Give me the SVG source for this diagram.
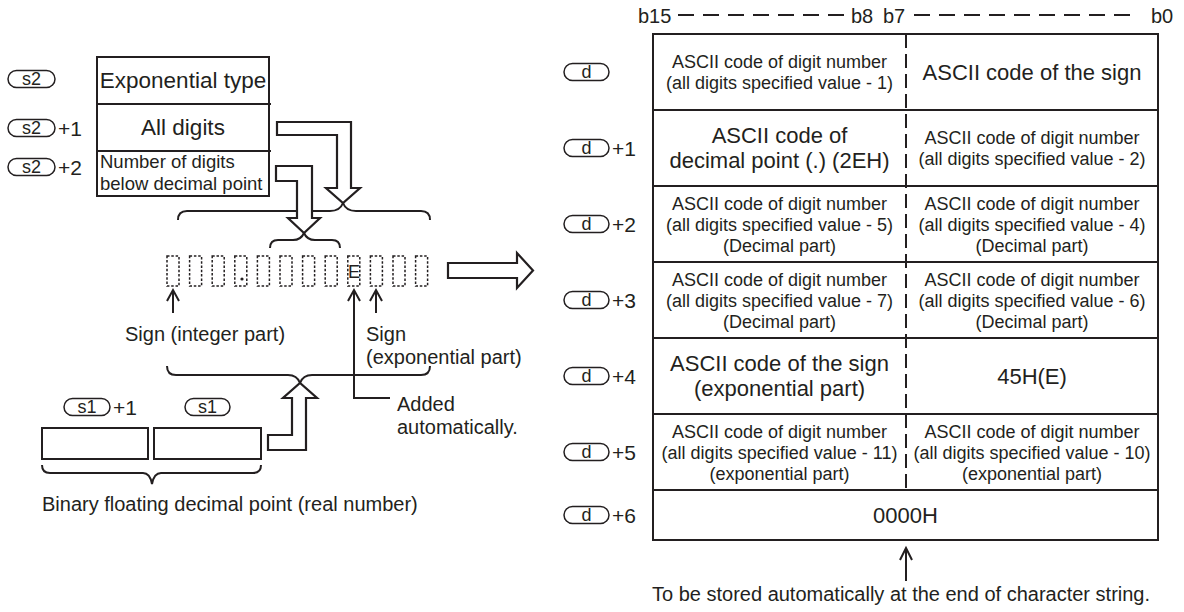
<svg xmlns="http://www.w3.org/2000/svg" width="1184" height="612" viewBox="0 0 1184 612">
<style>
text{font-family:"Liberation Sans",Arial,Helvetica,sans-serif;fill:#231f20}
.t18{font-size:18px}.t185{font-size:18.5px}.t20{font-size:20px}.t21{font-size:21px}.t22{font-size:22px}.t225{font-size:22.5px}
.m{text-anchor:middle}
.ln{fill:none;stroke:#231f20;stroke-width:2}
.box{fill:#fff;stroke:#231f20;stroke-width:2}
.ha{fill:#fff;stroke:#231f20;stroke-width:2.2;stroke-linejoin:miter}
.dt{fill:none;stroke:#231f20;stroke-width:1.5;stroke-dasharray:2.5 1.8}
.ov{fill:none;stroke:#231f20;stroke-width:1.5}
.dash{fill:none;stroke:#231f20;stroke-width:2;stroke-dasharray:14 6}
.hd{fill:none;stroke:#231f20;stroke-width:2;stroke-dasharray:16 9}
</style>

<g id="s2-labels">
  <rect class="ov" x="8" y="70.5" width="47" height="17" rx="8.5"/><text class="t18 m" x="31.5" y="85">s2</text>
  <rect class="ov" x="8" y="119.5" width="47" height="17" rx="8.5"/><text class="t18 m" x="31.5" y="134">s2</text><text class="t21" x="58" y="136">+1</text>
  <rect class="ov" x="8" y="158.5" width="47" height="17" rx="8.5"/><text class="t18 m" x="31.5" y="173">s2</text><text class="t21" x="58" y="175">+2</text>
</g>
<g id="s2-table">
  <rect class="box" x="97" y="57" width="172" height="139"/>
  <line class="ln" x1="97" y1="104" x2="271" y2="104"/>
  <line class="ln" x1="97" y1="151" x2="271" y2="151"/>
  <text class="t225 m" x="183" y="88">Exponential type</text>
  <text class="t225 m" x="183" y="135">All digits</text>
  <text class="t185" x="100" y="168">Number of digits</text>
  <text class="t185" x="100" y="190">below decimal point</text>
</g>

<g id="connectors">
  <path class="ln" d="M178,220 Q178,211 187,211 H330 Q340,211 343,203 Q346,211 356,211 H421 Q430,211 430,220"/>
  <path class="ln" d="M270,248 Q270,240 278,240 H293 Q301,240 304,233 Q307,240 315,240 H332 Q340,240 340,248"/>
  <path class="ha" d="M277,122 H351 V188 H360 L343,203 L326,188 H337 V135 H277 Z"/>
  <path class="ha" d="M276,166 H312 V218 H320 L304,233 L288,218 H297 V181 H276 Z"/>
  <path class="ha" d="M448,263 H517 V253 L533,270.5 L517,288 V278 H448 Z"/>
  <path class="ln" d="M173,313 V291 M167,301 L173,290 L179,301"/>
  <path class="ln" d="M390,398 H354 V291 M348,301 L354,290 L360,301"/>
  <path class="ln" d="M376,313 V291 M370,301 L376,290 L382,301"/>
  <path class="ln" d="M167,366 Q167,375 176,375 H288 Q297,375 300,383 Q303,375 312,375 H421 Q430,375 430,366"/>
  <path class="ha" d="M268,435 H292 V398 H283 L300,383 L317,398 H306 V450 H268 Z"/>
  <path class="ln" d="M42,465 Q42,473 50,473 H143 Q150,473 152,484 Q154,473 161,473 H253 Q261,473 261,465"/>
  <path class="ln" d="M906,581 V549 M900,560 L906,548 L912,560"/>
</g>

<g id="char-boxes">
  <rect class="dt" x="167" y="256" width="12" height="30"/>
  <rect class="dt" x="189.6" y="256" width="12" height="30"/>
  <rect class="dt" x="212.2" y="256" width="12" height="30"/>
  <rect class="dt" x="234.8" y="256" width="12" height="30"/>
  <rect class="dt" x="257.4" y="256" width="12" height="30"/>
  <rect class="dt" x="280" y="256" width="12" height="30"/>
  <rect class="dt" x="302.6" y="256" width="12" height="30"/>
  <rect class="dt" x="325.2" y="256" width="12" height="30"/>
  <rect class="dt" x="347.8" y="256" width="12" height="30"/>
  <rect class="dt" x="370.4" y="256" width="12" height="30"/>
  <rect class="dt" x="393" y="256" width="12" height="30"/>
  <rect class="dt" x="415.6" y="256" width="12" height="30"/>
  <circle cx="242" cy="279" r="1.6" fill="#231f20"/>
  <text class="t18 m" x="354" y="278">E</text>
</g>

<g id="annotations">
  <text class="t20" x="125" y="341">Sign (integer part)</text>
  <text class="t20" x="366" y="341">Sign</text>
  <text class="t20" x="366" y="364">(exponential part)</text>
  <text class="t20" x="397" y="411">Added</text>
  <text class="t20" x="397" y="434">automatically.</text>
</g>

<g id="s1-source">
  <rect class="ov" x="64" y="398.5" width="46" height="17" rx="8.5"/><text class="t18 m" x="87" y="413">s1</text><text class="t21" x="113" y="415">+1</text>
  <rect class="ov" x="185" y="398.5" width="45" height="17" rx="8.5"/><text class="t18 m" x="207.5" y="413">s1</text>
  <rect class="box" x="42" y="428" width="106" height="31"/>
  <rect class="box" x="154" y="428" width="107" height="31"/>
  <text class="t20" x="42" y="511">Binary floating decimal point (real number)</text>
</g>

<g id="bit-header">
  <text class="t20" x="638" y="23">b15</text>
  <line class="hd" x1="678" y1="15" x2="844" y2="15"/>
  <text class="t20" x="851" y="23">b8</text>
  <text class="t20" x="883" y="23">b7</text>
  <line class="hd" x1="914" y1="15" x2="1130" y2="15"/>
  <text class="t20" x="1151" y="23">b0</text>
</g>

<g id="d-labels">
  <rect class="ov" x="564" y="63.5" width="45" height="17" rx="8.5"/><text class="t18 m" x="586.5" y="78">d</text>
  <rect class="ov" x="564" y="139.5" width="45" height="17" rx="8.5"/><text class="t18 m" x="586.5" y="154">d</text><text class="t21" x="612" y="156">+1</text>
  <rect class="ov" x="564" y="215.5" width="45" height="17" rx="8.5"/><text class="t18 m" x="586.5" y="230">d</text><text class="t21" x="612" y="232">+2</text>
  <rect class="ov" x="564" y="291.5" width="45" height="17" rx="8.5"/><text class="t18 m" x="586.5" y="306">d</text><text class="t21" x="612" y="308">+3</text>
  <rect class="ov" x="564" y="367.5" width="45" height="17" rx="8.5"/><text class="t18 m" x="586.5" y="382">d</text><text class="t21" x="612" y="384">+4</text>
  <rect class="ov" x="564" y="443.5" width="45" height="17" rx="8.5"/><text class="t18 m" x="586.5" y="458">d</text><text class="t21" x="612" y="460">+5</text>
  <rect class="ov" x="564" y="506.5" width="45" height="17" rx="8.5"/><text class="t18 m" x="586.5" y="521">d</text><text class="t21" x="612" y="523">+6</text>
</g>

<g id="d-table">
  <rect class="box" x="653" y="34" width="505" height="506"/>
  <line class="ln" x1="653" y1="110" x2="1158" y2="110"/>
  <line class="ln" x1="653" y1="186" x2="1158" y2="186"/>
  <line class="ln" x1="653" y1="262" x2="1158" y2="262"/>
  <line class="ln" x1="653" y1="338" x2="1158" y2="338"/>
  <line class="ln" x1="653" y1="414" x2="1158" y2="414"/>
  <line class="ln" x1="653" y1="490" x2="1158" y2="490"/>
  <line class="dash" x1="906" y1="34" x2="906" y2="490"/>

  <text class="t18 m" x="779.5" y="68">ASCII code of digit number</text>
  <text class="t18 m" x="779.5" y="89">(all digits specified value - 1)</text>
  <text class="t22 m" x="1032" y="80">ASCII code of the sign</text>

  <text class="t22 m" x="779.5" y="143">ASCII code of</text>
  <text class="t22 m" x="779.5" y="168">decimal point (.) (2EH)</text>
  <text class="t18 m" x="1032" y="144">ASCII code of digit number</text>
  <text class="t18 m" x="1032" y="165">(all digits specified value - 2)</text>

  <text class="t18 m" x="779.5" y="209.5">ASCII code of digit number</text>
  <text class="t18 m" x="779.5" y="230.5">(all digits specified value - 5)</text>
  <text class="t18 m" x="779.5" y="251.5">(Decimal part)</text>
  <text class="t18 m" x="1032" y="209.5">ASCII code of digit number</text>
  <text class="t18 m" x="1032" y="230.5">(all digits specified value - 4)</text>
  <text class="t18 m" x="1032" y="251.5">(Decimal part)</text>

  <text class="t18 m" x="779.5" y="285.5">ASCII code of digit number</text>
  <text class="t18 m" x="779.5" y="306.5">(all digits specified value - 7)</text>
  <text class="t18 m" x="779.5" y="327.5">(Decimal part)</text>
  <text class="t18 m" x="1032" y="285.5">ASCII code of digit number</text>
  <text class="t18 m" x="1032" y="306.5">(all digits specified value - 6)</text>
  <text class="t18 m" x="1032" y="327.5">(Decimal part)</text>

  <text class="t22 m" x="779.5" y="371">ASCII code of the sign</text>
  <text class="t22 m" x="779.5" y="396">(exponential part)</text>
  <text class="t22 m" x="1032" y="384">45H(E)</text>

  <text class="t18 m" x="779.5" y="437.5">ASCII code of digit number</text>
  <text class="t18 m" x="779.5" y="458.5">(all digits specified value - 11)</text>
  <text class="t18 m" x="779.5" y="479.5">(exponential part)</text>
  <text class="t18 m" x="1032" y="437.5">ASCII code of digit number</text>
  <text class="t18 m" x="1032" y="458.5">(all digits specified value - 10)</text>
  <text class="t18 m" x="1032" y="479.5">(exponential part)</text>

  <text class="t22 m" x="905.5" y="523">0000H</text>
</g>

<text class="t20" x="652" y="601">To be stored automatically at the end of character string.</text>
</svg>
